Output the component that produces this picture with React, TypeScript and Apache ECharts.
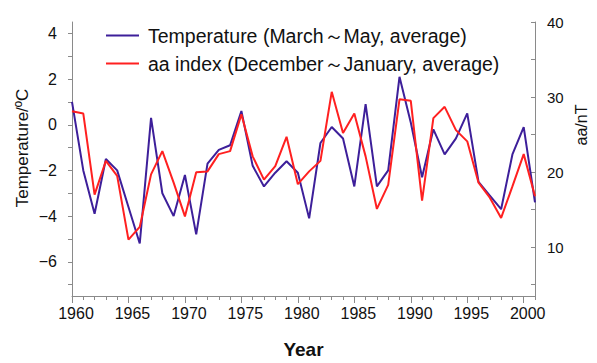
import { useEffect, useRef } from "react";
import * as echarts from "echarts";

const years = [
  1960, 1961, 1962, 1963, 1964, 1965, 1966, 1967, 1968, 1969,
  1970, 1971, 1972, 1973, 1974, 1975, 1976, 1977, 1978, 1979,
  1980, 1981, 1982, 1983, 1984, 1985, 1986, 1987, 1988, 1989,
  1990, 1991, 1992, 1993, 1994, 1995, 1996, 1997, 1998, 1999,
  2000, 2001,
];

const temperature = [
  1.0, -2.0, -3.9, -1.5, -2.0, -3.6, -5.2, 0.3, -3.0, -4.0,
  -2.2, -4.8, -1.7, -1.1, -0.9, 0.6, -1.8, -2.7, -2.1, -1.6,
  -2.1, -4.1, -0.8, -0.1, -0.6, -2.7, 0.9, -2.7, -2.0, 2.1,
  0.1, -2.3, -0.2, -1.3, -0.6, 0.5, -2.5, -3.1, -3.7, -1.3,
  -0.1, -3.4,
];

const aaIndex = [
  28.1, 27.8, 17.0, 21.5, 19.5, 11.0, 12.7, 19.7, 22.8, 18.6,
  14.1, 20.0, 20.1, 22.4, 22.8, 27.7, 22.1, 19.0, 20.8, 24.7,
  18.4, 20.1, 21.5, 30.7, 25.2, 27.8, 22.1, 15.1, 18.3, 29.7,
  29.5, 16.2, 27.2, 28.7, 25.6, 24.1, 18.6, 16.6, 13.9, 18.1,
  22.4, 16.8,
];

const seriesNames = [
  "Temperature (March～May, average)",
  "aa index (December～January, average)",
];

const xLabelValues = [1960, 1965, 1970, 1975, 1980, 1985, 1990, 1995, 2000];
const leftLabelValues = [-6, -4, -2, 0, 2, 4];
const leftTickValues = [-7, -6, -5, -4, -3, -2, -1, 0, 1, 2, 3, 4];
const rightLabelValues = [10, 20, 30, 40];
const rightTickValues = [5, 10, 15, 20, 25, 30, 35, 40];

const SANS = '"Liberation Sans", Arial, sans-serif';
const BLUE = "#3d1f9a";
const RED = "#ff2020";
const AXIS = "#8a8a8a";

export default function App() {
  const ref = useRef<HTMLDivElement>(null);

  useEffect(() => {
    if (!ref.current) return;
    const chart = echarts.init(ref.current, undefined, { renderer: "svg" });
    chart.setOption({
      animation: false,
      backgroundColor: "#ffffff",
      grid: {
        left: 72,
        right: 62,
        top: 22,
        bottom: 67,
        outerBoundsMode: "none",
      },
      legend: {
        orient: "vertical",
        left: 101,
        top: 20,
        itemWidth: 33,
        itemHeight: 2,
        itemGap: 7,
        icon: "rect",
        data: seriesNames,
        textStyle: {
          fontFamily: SANS,
          fontSize: 19.5,
          color: "#111",
          lineHeight: 21,
          padding: [0, 0, 0, 4],
        },
      },
      xAxis: [
        {
          type: "value",
          min: 1960,
          max: 2001,
          position: "bottom",
          name: "Year",
          nameLocation: "middle",
          nameGap: 44,
          nameTextStyle: {
            fontFamily: SANS,
            fontSize: 19,
            fontWeight: "bold",
            color: "#111",
          },
          axisLine: { show: true, onZero: false, lineStyle: { color: AXIS, width: 1 } },
          axisTick: {
            show: true,
            length: 4,
            inside: false,
            customValues: years,
            lineStyle: { color: AXIS },
          },
          axisLabel: {
            customValues: xLabelValues,
            margin: 9,
            fontFamily: SANS,
            fontSize: 16,
            color: "#111",
            padding: [0, 0, 0, 8],
            formatter: (v: number) => String(v),
          },
          splitLine: { show: false },
        },
        {
          type: "value",
          min: 1960,
          max: 2001,
          position: "bottom",
          axisLine: { show: false, onZero: false },
          axisTick: {
            show: true,
            length: 7,
            inside: false,
            customValues: xLabelValues,
            lineStyle: { color: AXIS },
          },
          axisLabel: { show: false },
          splitLine: { show: false },
        },
      ],
      yAxis: [
        {
          type: "value",
          min: -7.5,
          max: 4.5,
          position: "left",
          axisLine: { show: true, onZero: false, lineStyle: { color: AXIS, width: 1 } },
          axisTick: {
            show: true,
            length: 4,
            inside: false,
            customValues: leftTickValues,
            lineStyle: { color: AXIS },
          },
          axisLabel: {
            customValues: leftLabelValues,
            margin: 15,
            fontFamily: SANS,
            fontSize: 16,
            color: "#111",
            formatter: (v: number) => String(v).replace("-", "−"),
          },
          splitLine: { show: false },
        },
        {
          type: "value",
          min: 3.5,
          max: 40,
          position: "right",
          axisLine: { show: true, onZero: false, lineStyle: { color: AXIS, width: 1 } },
          axisTick: {
            show: true,
            length: 4,
            inside: true,
            customValues: rightTickValues,
            lineStyle: { color: AXIS },
          },
          axisLabel: {
            customValues: rightLabelValues,
            margin: 12,
            fontFamily: SANS,
            fontSize: 15,
            color: "#111",
          },
          splitLine: { show: false },
        },
      ],
      graphic: [
        {
          type: "text",
          x: 22,
          y: 148,
          rotation: Math.PI / 2,
          style: {
            text: "Temperature/ºC",
            font: `17px ${SANS}`,
            fill: "#111",
            align: "center",
            verticalAlign: "middle",
          },
        },
        {
          type: "text",
          x: 581,
          y: 125,
          rotation: Math.PI / 2,
          style: {
            text: "aa/nT",
            font: `16px ${SANS}`,
            fill: "#111",
            align: "center",
            verticalAlign: "middle",
          },
        },
      ],
      series: [
        {
          name: seriesNames[0],
          type: "line",
          xAxisIndex: 0,
          yAxisIndex: 0,
          data: years.map((y, i) => [y, temperature[i]]),
          symbol: "none",
          lineStyle: { color: BLUE, width: 2 },
          itemStyle: { color: BLUE },
        },
        {
          name: seriesNames[1],
          type: "line",
          xAxisIndex: 0,
          yAxisIndex: 1,
          data: years.map((y, i) => [y, aaIndex[i]]),
          symbol: "none",
          lineStyle: { color: RED, width: 2 },
          itemStyle: { color: RED },
        },
      ],
    });
    return () => chart.dispose();
  }, []);

  return (
    <div
      ref={ref}
      style={{ position: "absolute", left: 0, top: 0, width: 597, height: 363 }}
    />
  );
}
